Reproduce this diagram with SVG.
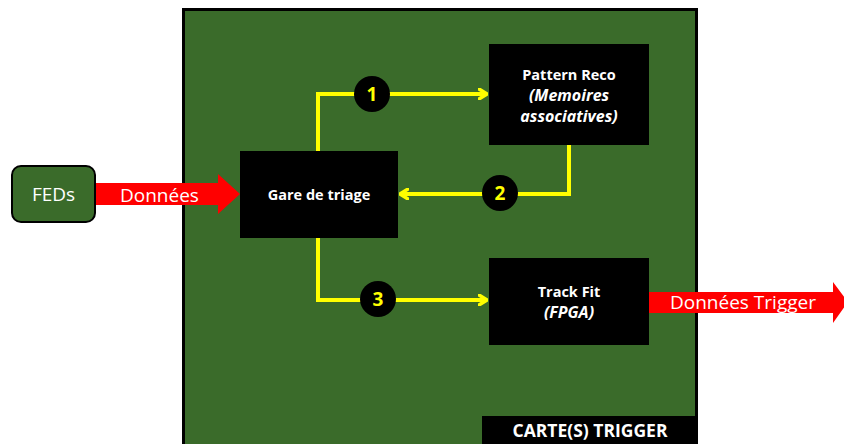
<svg xmlns="http://www.w3.org/2000/svg" width="844" height="444" viewBox="0 0 844 444">
<style>
.box{fill:#000}
.wt{fill:#fff;font-family:"Open Sans","Liberation Sans",sans-serif;font-weight:bold;font-size:14.5px;text-anchor:middle}
.it{font-style:italic;font-size:16px}
.yl{fill:none;stroke:#ffff00;stroke-width:4}
.num{fill:#ffff00;font-family:"Open Sans","Liberation Sans",sans-serif;font-weight:bold;font-size:19px;text-anchor:middle}
.red{fill:#ff0000}
.rt{fill:#fff;font-family:"Open Sans","Liberation Sans",sans-serif;font-size:19px}
</style>
<defs>
<marker id="ah" markerWidth="10" markerHeight="12" refX="9" refY="6" orient="auto" markerUnits="userSpaceOnUse">
<path d="M1,1 L9,6 L1,11" fill="none" stroke="#ffff00" stroke-width="3.5" stroke-linecap="round"/>
</marker>
</defs>
<rect width="844" height="444" fill="#fff"/>
<g id="carte">
<rect x="183.5" y="9.5" width="513" height="440" fill="#3a6b2a" stroke="#000" stroke-width="3"/>
<rect x="482" y="416" width="215" height="28" class="box"/>
<text x="590" y="437" class="wt" style="font-size:17.5px">CARTE(S) TRIGGER</text>
</g>
<g id="connectors">
<path class="red" d="M95,183 H218 V174 L240,194 L218,214 V205 H95 Z"/>
<text x="120" y="202" class="rt">Données</text>
<path class="red" d="M649,292 H833 V282 L848,302 L833,323 V313 H649 Z"/>
<text x="670" y="309" class="rt">Données Trigger</text>
<path class="yl" d="M318,151 V94 H487" marker-end="url(#ah)"/>
<path class="yl" d="M569,145 V194 H400" marker-end="url(#ah)"/>
<path class="yl" d="M318,238 V300 H487" marker-end="url(#ah)"/>
<circle cx="372" cy="94" r="18" fill="#000"/>
<text x="372" y="101" class="num">1</text>
<circle cx="500" cy="193" r="18" fill="#000"/>
<text x="500" y="200" class="num">2</text>
<circle cx="378" cy="299" r="18" fill="#000"/>
<text x="378" y="306" class="num">3</text>
</g>
<g id="feds">
<rect x="12" y="166" width="83" height="56" rx="9" fill="#3a6b2a" stroke="#000" stroke-width="2"/>
<text x="53.5" y="201" class="rt" style="text-anchor:middle">FEDs</text>
</g>
<g id="gare">
<rect x="240" y="151" width="158" height="87" class="box"/>
<text x="319" y="200" class="wt">Gare de triage</text>
</g>
<g id="pattern">
<rect x="489" y="44" width="160" height="101" class="box"/>
<text x="569" y="80" class="wt">Pattern Reco</text>
<text x="569" y="101" class="wt it">(Memoires</text>
<text x="569" y="122" class="wt it">associatives)</text>
</g>
<g id="trackfit">
<rect x="489" y="258" width="160" height="87" class="box"/>
<text x="569" y="297" class="wt">Track Fit</text>
<text x="569" y="318" class="wt it">(FPGA)</text>
</g>
</svg>
